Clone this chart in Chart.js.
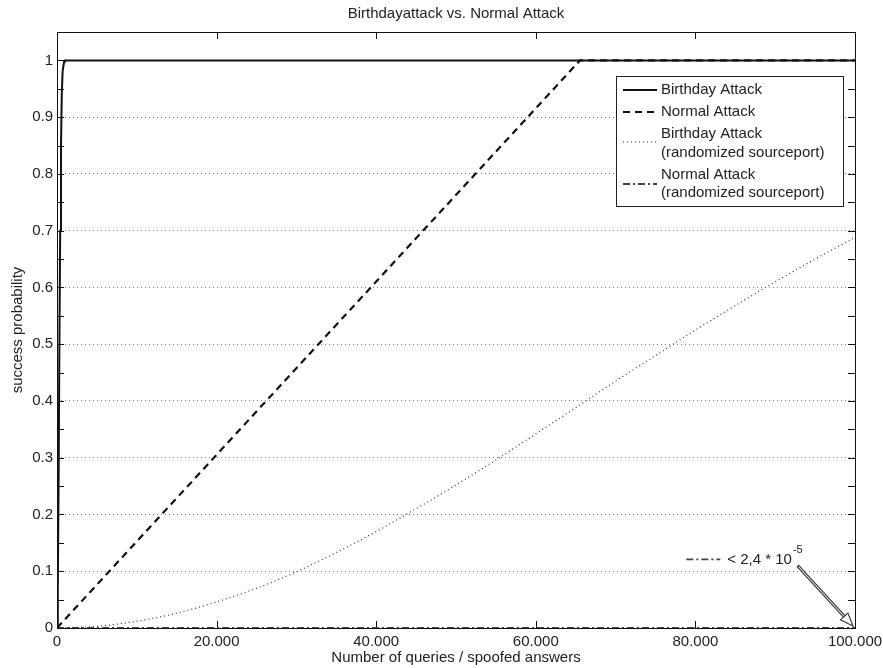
<!DOCTYPE html>
<html>
<head>
<meta charset="utf-8">
<script src="https://cdn.jsdelivr.net/npm/chart.js@4"></script>
<style>
  html, body { margin: 0; padding: 0; background: #fff; }
  #wrap { width: 883px; height: 668px; }
</style>
</head>
<body>
<div id="wrap"><canvas id="chart"></canvas></div>
<script>
// values
const birthdayX = [0, 100, 200, 300, 400, 500, 600, 700, 800, 900, 1000, 1200, 100000];
const birthdayY = [0, 0.07, 0.26, 0.5, 0.7, 0.85, 0.94, 0.98, 0.99, 0.998, 1, 1, 1];

const normalX = [0, 65536, 100000];
const normalY = [0, 1, 1];

const randBirthdayX = [0, 5000, 10000, 15000, 20000, 25000, 30000, 35000, 40000, 45000, 50000,
  55000, 60000, 65000, 70000, 75000, 80000, 85000, 90000, 95000, 100000];
const randBirthdayY = [0, 0.003, 0.012, 0.026, 0.046, 0.07, 0.099, 0.133, 0.17, 0.21, 0.252,
  0.296, 0.342, 0.388, 0.435, 0.48, 0.525, 0.568, 0.61, 0.65, 0.688];

const randNormalX = [0, 100000];
const randNormalY = [0, 0.000024];

const xTicks = [0, 20000, 40000, 60000, 80000, 100000];

const FONT = "'Liberation Sans', Arial, Helvetica, sans-serif";

function pts(xs, ys) {
  return xs.map((x, i) => ({ x: x, y: ys[i] }));
}

const series = [
  { label: "Birthday Attack", data: pts(birthdayX, birthdayY), borderColor: "#111", borderWidth: 2, borderDash: [] },
  { label: "Normal Attack", data: pts(normalX, normalY), borderColor: "#111", borderWidth: 2.2, borderDash: [7, 5] },
  { label: "Birthday Attack\n(randomized sourceport)", data: pts(randBirthdayX, randBirthdayY), borderColor: "#333", borderWidth: 1.2, borderDash: [1, 3], cubicInterpolationMode: "monotone" },
  { label: "Normal Attack\n(randomized sourceport)", data: pts(randNormalX, randNormalY), borderColor: "#444", borderWidth: 1.8, borderDash: [7, 3, 2, 3] },
];

// frame, inward ticks, title
const framePlugin = {
  id: "frame",
  beforeDatasetsDraw(chart) {
    const { ctx, chartArea: a, scales } = chart;
    ctx.save();
    ctx.strokeStyle = "#111";
    ctx.lineWidth = 1;
    ctx.strokeRect(a.left + 0.5, a.top + 0.5, a.right - a.left, a.bottom - a.top);
    ctx.beginPath();
    xTicks.forEach((v) => {
      const x = Math.round(scales.x.getPixelForValue(v)) + 0.5;
      ctx.moveTo(x, a.bottom); ctx.lineTo(x, a.bottom - 7);
      ctx.moveTo(x, a.top); ctx.lineTo(x, a.top + 7);
    });
    scales.y.ticks.forEach((t) => {
      const y = Math.round(scales.y.getPixelForValue(t.value)) + 0.5;
      ctx.moveTo(a.left, y); ctx.lineTo(a.left + 7, y);
      ctx.moveTo(a.right, y); ctx.lineTo(a.right - 7, y);
    });
    ctx.stroke();
    ctx.fillStyle = "#222";
    ctx.font = "15px " + FONT;
    ctx.textAlign = "center";
    ctx.textBaseline = "middle";
    ctx.fillText("Birthdayattack vs. Normal Attack", (a.left + a.right) / 2, 14);
    ctx.restore();
  },
};

function drawSample(ctx, ds, x1, x2, y) {
  ctx.save();
  ctx.strokeStyle = ds.borderColor;
  ctx.lineWidth = ds.borderWidth;
  ctx.setLineDash(ds.borderDash);
  ctx.beginPath();
  ctx.moveTo(x1, y);
  ctx.lineTo(x2, y);
  ctx.stroke();
  ctx.restore();
}

// legend box and the annotation with arrow
const legendPlugin = {
  id: "boxLegend",
  afterDraw(chart) {
    const { ctx, chartArea: a, scales } = chart;
    const bx = a.right - 239, by = a.top + 44, bw = 227, bh = 130;
    ctx.save();
    ctx.fillStyle = "#fff";
    ctx.fillRect(bx, by, bw, bh);
    ctx.strokeStyle = "#222";
    ctx.lineWidth = 1;
    ctx.strokeRect(bx + 0.5, by + 0.5, bw, bh);

    ctx.font = "15px " + FONT;
    ctx.fillStyle = "#222";
    ctx.textAlign = "left";
    ctx.textBaseline = "middle";
    const rows = [
      { lines: [14], sample: 14 },
      { lines: [36], sample: 36 },
      { lines: [58, 77], sample: 66 },
      { lines: [99, 117], sample: 108 },
    ];
    series.forEach((ds, i) => {
      const r = rows[i];
      drawSample(ctx, ds, bx + 7, bx + 41, by + r.sample);
      ds.label.split("\n").forEach((txt, j) => {
        ctx.fillText(txt, bx + 45, by + r.lines[j]);
      });
    });

    // annotation for the randomized normal attack
    const tx = scales.x.getPixelForValue(84000);
    const ty = scales.y.getPixelForValue(0.121);
    drawSample(ctx, series[3], tx - 41, tx - 7, ty);
    ctx.fillText("< 2,4 * 10", tx, ty + 1);
    const w = ctx.measureText("< 2,4 * 10").width;
    ctx.font = "11px " + FONT;
    ctx.fillText("-5", tx + w + 1, ty - 9);

    const x0 = scales.x.getPixelForValue(92800);
    const y0 = scales.y.getPixelForValue(0.11);
    const x1 = scales.x.getPixelForValue(100000) - 2;
    const y1 = scales.y.getPixelForValue(0) - 2;
    const ang = Math.atan2(y1 - y0, x1 - x0);
    const hl = 13, hw = 5;
    const bxp = x1 - hl * Math.cos(ang), byp = y1 - hl * Math.sin(ang);
    ctx.strokeStyle = "#444";
    ctx.lineWidth = 3.2;
    ctx.beginPath();
    ctx.moveTo(x0, y0);
    ctx.lineTo(bxp, byp);
    ctx.stroke();
    ctx.strokeStyle = "#fff";
    ctx.lineWidth = 1;
    ctx.beginPath();
    ctx.moveTo(x0 + 1.5 * Math.cos(ang), y0 + 1.5 * Math.sin(ang));
    ctx.lineTo(bxp, byp);
    ctx.stroke();
    ctx.strokeStyle = "#444";
    ctx.lineWidth = 1.2;
    ctx.beginPath();
    ctx.moveTo(x1, y1);
    ctx.lineTo(bxp + hw * Math.sin(ang), byp - hw * Math.cos(ang));
    ctx.lineTo(bxp - hw * Math.sin(ang), byp + hw * Math.cos(ang));
    ctx.closePath();
    ctx.fillStyle = "#fff";
    ctx.fill();
    ctx.stroke();
    ctx.restore();
  },
};

new Chart(document.getElementById("chart"), {
  type: "line",
  data: {
    datasets: series.map((s) => ({
      label: s.label,
      data: s.data,
      borderColor: s.borderColor,
      borderWidth: s.borderWidth,
      borderDash: s.borderDash,
      cubicInterpolationMode: s.cubicInterpolationMode || "default",
      fill: false,
      pointRadius: 0,
    })),
  },
  options: {
    responsive: true,
    maintainAspectRatio: false,
    animation: false,
    layout: { padding: { top: 32, right: 28, left: 0, bottom: 0 } },
    plugins: {
      legend: { display: false },
      title: { display: false },
      tooltip: { enabled: false },
    },
    scales: {
      x: {
        type: "linear",
        min: 0,
        max: 100000,
        afterFit: (s) => {
          s.height = 40;
          s.paddingLeft = 0;
          s.paddingRight = 0;
        },
        afterBuildTicks: (s) => { s.ticks = xTicks.map((v) => ({ value: v })); },
        grid: { display: false, drawTicks: false },
        border: { display: false },
        ticks: {
          padding: 5,
          maxRotation: 0,
          autoSkip: false,
          color: "#222",
          font: { family: FONT, size: 15 },
          callback: (v) => (v === 0 ? "0" : v / 1000 + ".000"),
        },
        title: {
          display: true,
          text: "Number of queries / spoofed answers",
          color: "#222",
          font: { family: FONT, size: 15 },
          padding: 1,
        },
      },
      y: {
        min: 0,
        max: 1.05,
        afterFit: (s) => {
          s.width = 57;
          s.paddingTop = 0;
          s.paddingBottom = 0;
        },
        grid: {
          drawTicks: false,
          lineWidth: 1,
          color: (c) => {
            const k = Math.round(c.tick.value * 20);
            return k % 2 === 0 && k > 0 && k < 20 ? "#777" : "rgba(0,0,0,0)";
          },
        },
        border: { display: false, dash: [1, 3] },
        ticks: {
          stepSize: 0.05,
          padding: 4,
          autoSkip: false,
          color: "#222",
          font: { family: FONT, size: 15 },
          callback: (v) => {
            const k = Math.round(v * 20);
            if (k % 2 !== 0 || k > 20) return "";
            return k === 0 ? "0" : k === 20 ? "1" : (k / 20).toFixed(1);
          },
        },
        title: {
          display: true,
          text: "success probability",
          color: "#222",
          font: { family: FONT, size: 15 },
          padding: 9,
        },
      },
    },
  },
  plugins: [framePlugin, legendPlugin],
});
</script>
</body>
</html>
